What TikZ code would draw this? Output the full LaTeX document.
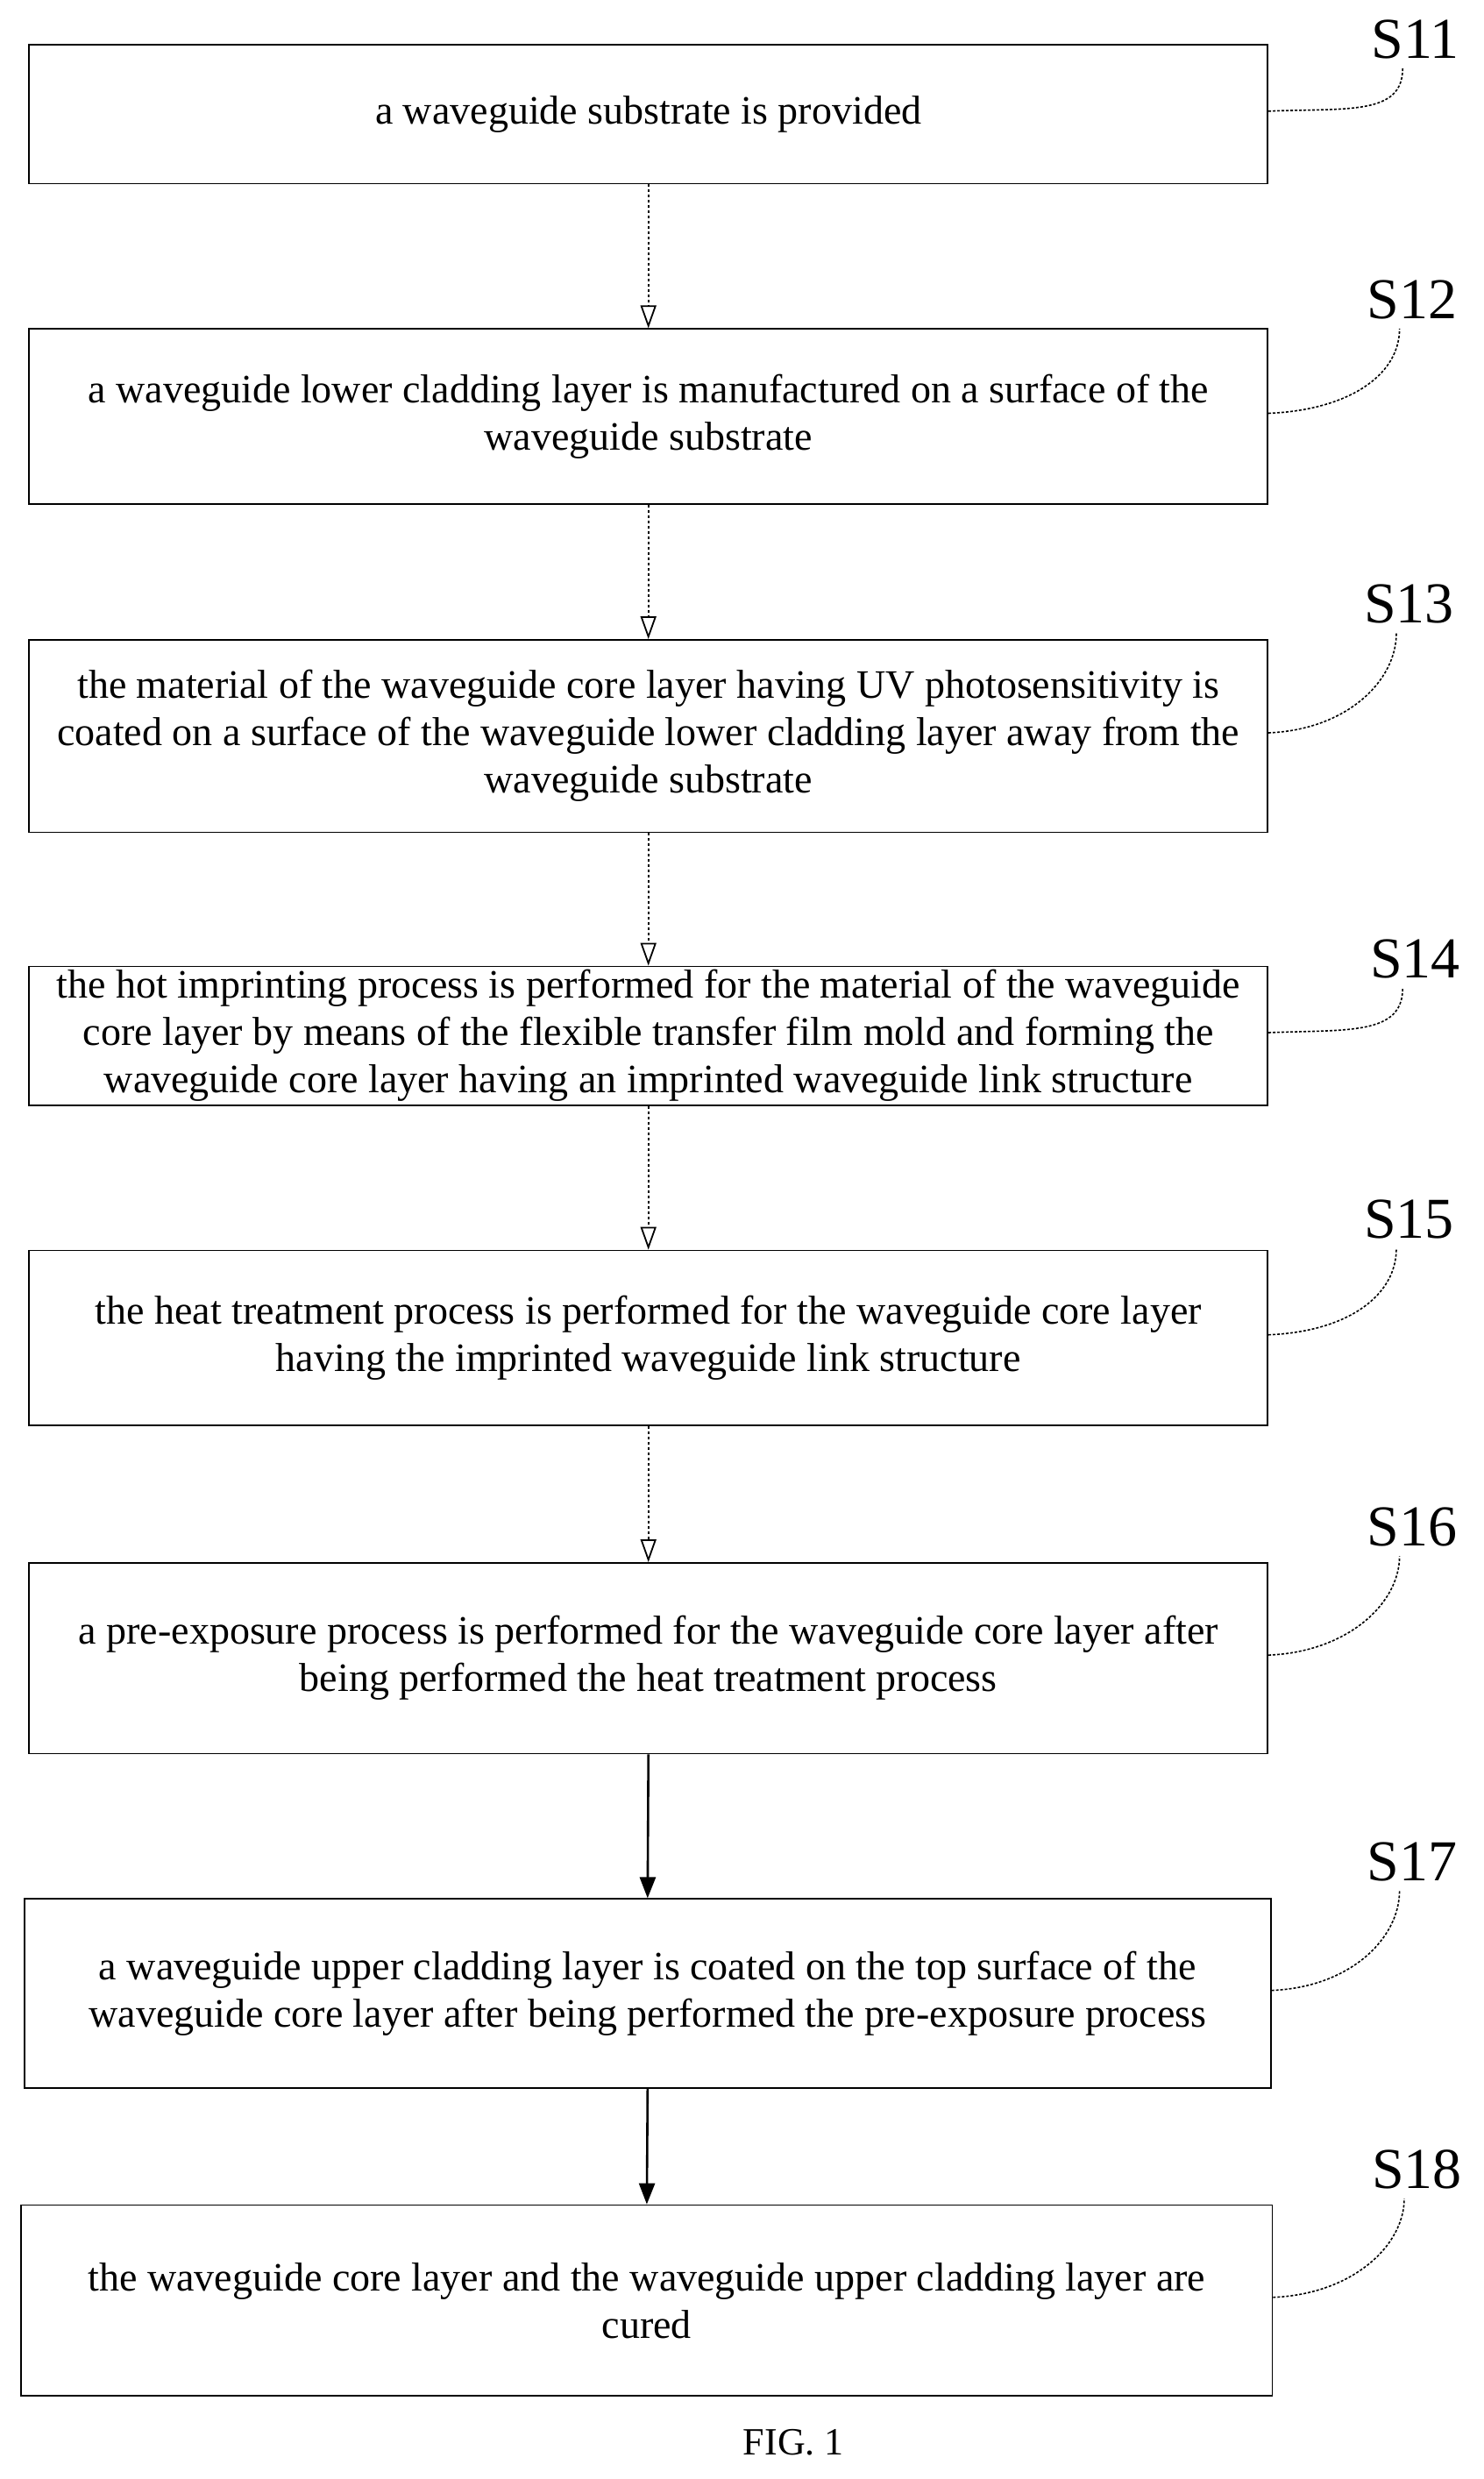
\documentclass[tikz,border=0pt]{standalone}
\usepackage{fontspec}
\setmainfont{Liberation Serif}
\usetikzlibrary{arrows.meta,calc}
\begin{document}
\begin{tikzpicture}[x=1.8pt,y=-1.8pt,
  box/.style={draw,line width=1.6pt,inner sep=0pt},
  txt/.style={font=\fontsize{46}{54}\selectfont,align=center},
  lab/.style={font=\fontsize{66}{70}\selectfont},
  lead/.style={line width=1.6pt,densely dashed},
  dar/.style={line width=1.8pt,dashed,-{Triangle[open,length=26pt,width=18pt]}},
  sar/.style={line width=2.6pt,-{Triangle[length=24pt,width=18pt]}}]
\useasboundingbox (0,0) rectangle (940,1571.1);
\newcommand{\stp}[6]{%
  \node[box,minimum width={(#3-#2)*1.8pt},minimum height={(#5-#4)*1.8pt},anchor=north west] (#1) at (#2,#4) {};
  \node[txt] (#1t) at (#1.center) {#6};}
\stp{b1}{18}{803}{28}{116}{a waveguide substrate is provided}
\stp{b2}{18}{803}{208}{319}{a waveguide lower cladding layer is manufactured on a surface of the\\waveguide substrate}
\stp{b3}{18}{803}{405}{527}{the material of the waveguide core layer having UV photosensitivity is\\coated on a surface of the waveguide lower cladding layer away from the\\waveguide substrate}
\stp{b4}{18}{803}{612}{700}{the hot imprinting process is performed for the material of the waveguide\\core layer by means of the flexible transfer film mold and forming the\\waveguide core layer having an imprinted waveguide link structure}
\stp{b5}{18}{803}{792}{903}{the heat treatment process is performed for the waveguide core layer\\having the imprinted waveguide link structure}
\stp{b6}{18}{803}{990}{1111}{a pre-exposure process is performed for the waveguide core layer after\\being performed the heat treatment process}
\stp{b7}{15}{805}{1203}{1323}{a waveguide upper cladding layer is coated on the top surface of the\\waveguide core layer after being performed the pre-exposure process}
\stp{b8}{13}{806}{1397}{1518}{the waveguide core layer and the waveguide upper cladding layer are\\cured}
\node[lab] (l1) at (897,25) {S11};
\node[lab] (l2) at (895,190) {S12};
\node[lab] (l3) at (893,383) {S13};
\node[lab] (l4) at (897,608) {S14};
\node[lab] (l5) at (893,773) {S15};
\node[lab] (l6) at (895,968) {S16};
\node[lab] (l7) at (895,1180) {S17};
\node[lab] (l8) at (898,1375) {S18};
\foreach \i in {1,...,8}{
  \draw[lead] ($(b\i.east)+(0,-2)$) .. controls +(50,-2) and +(0,30) .. ($(l\i.south)+(-8,4)$);}
\foreach \a/\b in {1/2,2/3,3/4,4/5,5/6}{\draw[dar] (b\a.south) -- (b\b.north);}
\draw[sar] (b6.south) -- (b7.north);
\draw[sar] (b7.south) -- (b8.north);
\node[font=\fontsize{44}{48}\selectfont] (fig) at (503,1548) {FIG. 1};
\end{tikzpicture}
\end{document}
